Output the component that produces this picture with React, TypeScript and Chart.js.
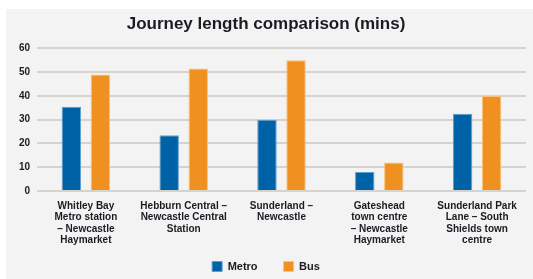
import React, { useEffect, useRef } from "react";
import { Chart, registerables } from "chart.js";

Chart.register(...registerables);

const categories: string[][] = [
  ["Whitley Bay", "Metro station", "– Newcastle", "Haymarket"],
  ["Hebburn Central –", "Newcastle Central", "Station"],
  ["Sunderland –", "Newcastle"],
  ["Gateshead", "town centre", "– Newcastle", "Haymarket"],
  ["Sunderland Park", "Lane – South", "Shields town", "centre"],
];
const metroValues: number[] = [35.5, 23.5, 30, 8, 32.5];
const busValues: number[] = [49, 51.5, 55, 12, 40];
const seriesNames: string[] = ["Metro", "Bus"];
const titleText = "Journey length comparison (mins)";

const panelPlugin = {
  id: "panelBg",
  afterLayout(chart: any) {
    const lg = chart.legend;
    if (lg) {
      lg.top -= 12;
      lg.height += 12;
    }
  },
  beforeDraw(chart: any) {
    const { ctx, width, height } = chart;
    ctx.save();
    ctx.fillStyle = "#ffffff";
    ctx.fillRect(0, 0, width, height);
    ctx.fillStyle = "#f3f3f3";
    ctx.fillRect(6, 9, width - 6, height - 9);
    ctx.restore();
  },
};

export default function App() {
  const ref = useRef<HTMLCanvasElement | null>(null);
  useEffect(() => {
    document.body.style.margin = "0";
    const canvas = ref.current;
    if (!canvas) return;
    const textColor = "#1b1b22";
    const chart = new Chart(canvas, {
      type: "bar",
      data: {
        labels: categories,
        datasets: [
          {
            label: seriesNames[0],
            data: metroValues,
            backgroundColor: "#0062a6",
            borderColor: "#5f9fd0",
            borderWidth: 1,
            categoryPercentage: 0.594,
            barPercentage: 0.67,
          },
          {
            label: seriesNames[1],
            data: busValues,
            backgroundColor: "#f09021",
            borderColor: "#f8c27c",
            borderWidth: 1,
            categoryPercentage: 0.594,
            barPercentage: 0.67,
          },
        ],
      },
      plugins: [panelPlugin],
      options: {
        responsive: false,
        animation: false,
        layout: { padding: { left: 6, right: 7, top: 8, bottom: 0 } },
        plugins: {
          title: {
            display: true,
            text: titleText,
            color: textColor,
            font: { family: "Liberation Sans, Arial, sans-serif", size: 17, weight: "bold" },
            padding: { top: 6, bottom: 14 },
          },
          legend: {
            position: "bottom",
            maxHeight: 32,
            labels: {
              color: textColor,
              font: { family: "Liberation Sans, Arial, sans-serif", size: 11, weight: "bold" },
              boxWidth: 10,
              boxHeight: 10,
              padding: 26,
            },
          },
          tooltip: { enabled: false },
        },
        scales: {
          x: {
            grid: { display: false, drawTicks: false },
            border: { display: false },
            ticks: {
              color: textColor,
              autoSkip: false,
              maxRotation: 0,
              padding: 9,
              font: { family: "Liberation Sans, Arial, sans-serif", size: 10, weight: "bold", lineHeight: 1.15 },
            },
            afterFit(scale: any) {
              scale.height = 56;
            },
          },
          y: {
            min: 0,
            max: 60,
            ticks: {
              stepSize: 10,
              color: textColor,
              padding: 7,
              font: { family: "Liberation Sans, Arial, sans-serif", size: 10, weight: "bold" },
            },
            grid: { color: "#d6d2cd", lineWidth: 2, drawTicks: false },
            border: { display: false },
            afterFit(scale: any) {
              scale.width = 31;
            },
          },
        },
      },
    } as any);
    return () => chart.destroy();
  }, []);
  return (
    <div style={{ width: 533, height: 279 }}>
      <canvas ref={ref} width={533} height={279} style={{ display: "block", width: 533, height: 279 }} />
    </div>
  );
}
